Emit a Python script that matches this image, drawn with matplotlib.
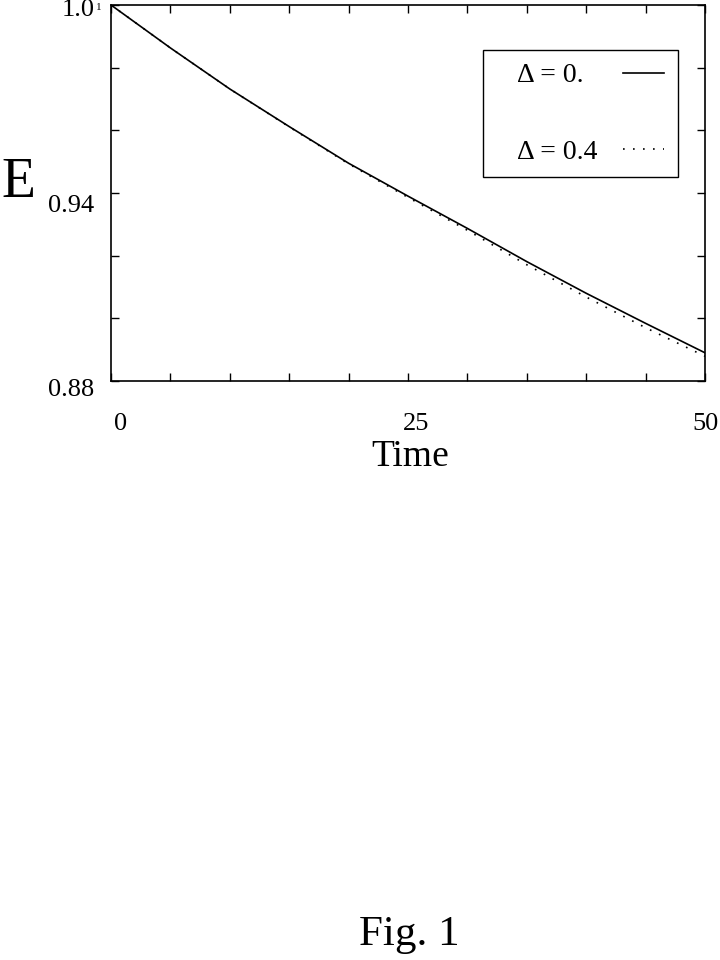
import matplotlib
matplotlib.use("Agg")
import matplotlib.pyplot as plt
from matplotlib.patches import Rectangle
from matplotlib.transforms import ScaledTranslation
import numpy as np

# values
time = [0, 5, 10, 15, 20, 25, 30, 35, 40, 45, 50]
energy_d0 = [1.0, 0.9863, 0.9732, 0.9612, 0.9495, 0.9390, 0.9287, 0.9181, 0.9080, 0.8984, 0.8890]
energy_d04 = [1.0, 0.9863, 0.9732, 0.9611, 0.9493, 0.9386, 0.9281, 0.9171, 0.9068, 0.8970, 0.8879]
# figure space keeps the two legend texts the same width (left aligned look)
labels = ["\u0394 = 0.\u2007", "\u0394 = 0.4"]

xticks = np.arange(0, 51, 5)
yticks = np.arange(0.88, 1.001, 0.02)
xtick_text = {0: "0", 25: "25", 50: "50"}
ytick_text = {0.88: "0.88", 0.94: "0.94", 1.0: "1.0"}
# little nudges (pixels) of the tick labels, as typeset in the original
xtick_shift = {0: 10, 25: 8, 50: 0}
ytick_shift = {0.88: 6, 0.94: 10, 1.0: 2}

plt.rcParams["font.family"] = ["Liberation Serif", "DejaVu Serif"]

fig = plt.figure(figsize=(7.2, 9.6), dpi=100)
ax = fig.add_axes([111/720, 1 - 381/960, 594/720, 376/960])

ax.plot(time, energy_d0, color="black", lw=1.2, label=labels[0])
ax.plot(time, energy_d04, color="black", lw=1.2, linestyle=(0, (1, 5)), label=labels[1])

ax.set_xlim(0, 50)
ax.set_ylim(0.88, 1.0)

ax.set_xticks(xticks)
ax.set_xticklabels([xtick_text.get(int(t), "") for t in xticks])
ax.set_yticks(yticks)
ax.set_yticklabels([ytick_text.get(round(v, 2), "") for v in yticks])

ax.tick_params(direction="in", length=6, width=1, top=True, right=True, labelsize=19)
ax.tick_params(axis="x", pad=23)
ax.tick_params(axis="y", pad=12)
for sp in ax.spines.values():
    sp.set_linewidth(1.2)

for t, lab in zip(xticks, ax.get_xticklabels()):
    dx = xtick_shift.get(int(t), 0)
    lab.set_transform(lab.get_transform() + ScaledTranslation(dx/100, 0, fig.dpi_scale_trans))
for v, lab in zip(yticks, ax.get_yticklabels()):
    dy = ytick_shift.get(round(v, 2), 0)
    lab.set_transform(lab.get_transform() + ScaledTranslation(0, -dy/100, fig.dpi_scale_trans))

fig.text(99/720, 1 - 8/960, "1", fontsize=8, ha="center", va="center")

fig.text(18/720, 1 - 183/960, "E", fontsize=40, ha="center", va="center")
fig.text(410/720, 1 - 457/960, "Time", fontsize=27, ha="center", va="center")
fig.text(409/720, 1 - 935/960, "Fig. 1", fontsize=31, ha="center", va="center")

# legend: entries without frame, box drawn separately (it is wider on the left)
leg = ax.legend(loc="upper left", bbox_to_anchor=((517-111)/594, (381-63)/376),
                markerfirst=False, fontsize=20, frameon=False,
                labelspacing=1.84, handlelength=1.5, handletextpad=0.9,
                borderpad=0, borderaxespad=0)
ax.add_patch(Rectangle(((483-111)/594, (381-177)/376), 195/594, 127/376,
                       transform=ax.transAxes, fill=False, edgecolor="black",
                       lw=1.0, zorder=5))

fig.savefig("out.png", dpi=100)
